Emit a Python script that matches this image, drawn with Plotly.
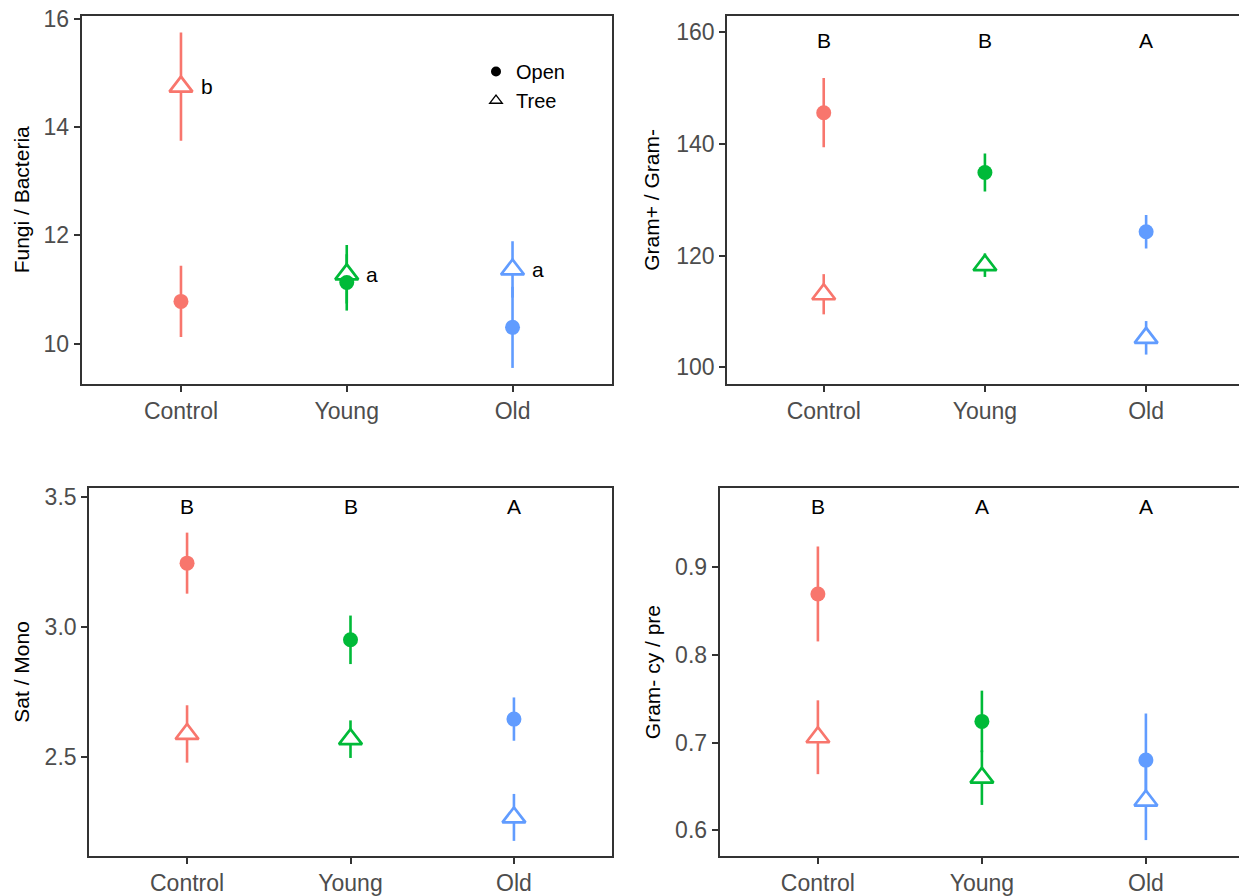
import plotly.graph_objects as go

W, H = 1239, 896

groups = ["Control", "Young", "Old"]
colors = ["#F8766D", "#00BA38", "#619CFF"]

# Panel 1: Fungi / Bacteria
fb_open = [10.78, 11.13, 10.30]
fb_open_se = [0.66, 0.52, 0.75]
fb_tree = [14.75, 11.28, 11.37]
fb_tree_se = [1.00, 0.54, 0.52]
fb_letters = ["b", "a", "a"]

# Panel 2: Gram+ / Gram-
gg_open = [145.6, 134.9, 124.3]
gg_open_se = [6.2, 3.4, 3.0]
gg_tree = [113.1, 118.3, 105.3]
gg_tree_se = [3.6, 2.1, 3.0]
gg_letters = ["B", "B", "A"]

# Panel 3: Sat / Mono
sm_open = [3.245, 2.951, 2.647]
sm_open_se = [0.117, 0.093, 0.083]
sm_tree = [2.59, 2.57, 2.27]
sm_tree_se = [0.11, 0.072, 0.09]
sm_letters = ["B", "B", "A"]

# Panel 4: Gram- cy / pre
gc_open = [0.869, 0.724, 0.680]
gc_open_se = [0.054, 0.035, 0.053]
gc_tree = [0.706, 0.660, 0.634]
gc_tree_se = [0.042, 0.031, 0.045]
gc_letters = ["B", "A", "A"]

panels = [
    dict(title="Fungi / Bacteria", open=fb_open, open_se=fb_open_se, tree=fb_tree, tree_se=fb_tree_se,
         letters=fb_letters, letter_mode="side", yrange=[9.253, 16.06], ytickvals=[10, 12, 14, 16], yfmt="d",
         xdom=[81.5, 612], ydom=[15.7, 384], xrange=[-0.6, 2.6], right_border=True, title_x=21.5),
    dict(title="Gram+ / Gram-", open=gg_open, open_se=gg_open_se, tree=gg_tree, tree_se=gg_tree_se,
         letters=gg_letters, letter_mode="top", letter_y=158.6, yrange=[97.03, 162.97],
         ytickvals=[100, 120, 140, 160], yfmt="d",
         xdom=[727, 1239], ydom=[15.7, 384], xrange=[-0.6, -0.6 + 512 / 161.2], right_border=False, title_x=652),
    dict(title="Sat / Mono", open=sm_open, open_se=sm_open_se, tree=sm_tree, tree_se=sm_tree_se,
         letters=sm_letters, letter_mode="top", letter_y=3.462, yrange=[2.122, 3.532],
         ytickvals=[2.5, 3.0, 3.5], yfmt=".1f",
         xdom=[89, 612], ydom=[488.3, 856], xrange=[-0.6, 2.6], right_border=True, title_x=21.5),
    dict(title="Gram- cy / pre", open=gc_open, open_se=gc_open_se, tree=gc_tree, tree_se=gc_tree_se,
         letters=gc_letters, letter_mode="top", letter_y=0.968, yrange=[0.5709, 0.9892],
         ytickvals=[0.6, 0.7, 0.8, 0.9], yfmt=".1f",
         xdom=[719.5, 1239], ydom=[488.3, 856], xrange=[-0.6, -0.6 + 519.5 / 164], right_border=False, title_x=652),
]

FONT = "Liberation Sans, Arial, sans-serif"
AX = "#333333"
fig = go.Figure()
annotations = []
layout_axes = {}

for k, p in enumerate(panels, start=1):
    xa = "x" if k == 1 else f"x{k}"
    ya = "y" if k == 1 else f"y{k}"
    xs = list(range(len(groups)))
    # error bars first
    for i in xs:
        fig.add_trace(go.Scatter(
            x=[i, i], y=[p["open"][i], p["tree"][i]], mode="markers",
            marker=dict(color="rgba(0,0,0,0)", size=1),
            error_y=dict(type="data", array=[p["open_se"][i], p["tree_se"][i]], visible=True,
                         color=colors[i], thickness=2.6, width=0),
            xaxis=xa, yaxis=ya, showlegend=False, hoverinfo="skip"))
    # tree markers
    fig.add_trace(go.Scatter(
        x=xs, y=p["tree"], mode="markers",
        marker=dict(symbol="triangle-up", size=20, color="white",
                    line=dict(color=colors, width=2.7)),
        xaxis=xa, yaxis=ya, showlegend=False, name="Tree"))
    # open markers
    fig.add_trace(go.Scatter(
        x=xs, y=p["open"], mode="markers",
        marker=dict(symbol="circle", size=15, color=colors, line=dict(width=0)),
        xaxis=xa, yaxis=ya, showlegend=False, name="Open"))

    x0, x1 = p["xdom"]
    yt, yb = p["ydom"]
    axis_key = "xaxis" if k == 1 else f"xaxis{k}"
    yaxis_key = "yaxis" if k == 1 else f"yaxis{k}"
    layout_axes[axis_key] = dict(
        domain=[x0 / W, x1 / W], range=p["xrange"], anchor=ya, automargin=False,
        tickmode="array", tickvals=xs, ticktext=groups,
        ticks="outside", ticklen=6, tickwidth=1.6, tickcolor=AX,
        showline=True, linecolor=AX, linewidth=1.6, mirror=True,
        showgrid=False, zeroline=False,
        tickfont=dict(family=FONT, size=23, color="#4D4D4D"))
    layout_axes[yaxis_key] = dict(
        domain=[1 - yb / H, 1 - yt / H], range=p["yrange"], anchor=xa, automargin=False,
        tickmode="array", tickvals=p["ytickvals"], tickformat=p["yfmt"],
        ticks="outside", ticklen=6, tickwidth=1.6, tickcolor=AX,
        showline=True, linecolor=AX, linewidth=1.6, mirror=p["right_border"],
        showgrid=False, zeroline=False,
        tickfont=dict(family=FONT, size=23, color="#4D4D4D"))

    # y-axis title
    annotations.append(dict(
        text=p["title"], xref="paper", yref="paper", x=p["title_x"] / W,
        y=1 - (yt + yb) / 2 / H, xanchor="center", yanchor="middle", textangle=-90,
        showarrow=False, font=dict(family=FONT, size=21, color="black")))

    # letters
    for i in xs:
        if p["letter_mode"] == "side":
            annotations.append(dict(
                text=p["letters"][i], xref=xa, yref=ya, x=i + 0.155, y=p["tree"][i],
                xanchor="center", yanchor="middle", showarrow=False,
                font=dict(family=FONT, size=21, color="black")))
        else:
            annotations.append(dict(
                text=p["letters"][i], xref=xa, yref=ya, x=i, y=p["letter_y"],
                xanchor="center", yanchor="middle", showarrow=False,
                font=dict(family=FONT, size=21, color="black")))

# legend entries
fig.add_trace(go.Scatter(x=[None], y=[None], mode="markers", name="Open",
                         marker=dict(symbol="circle", size=10, color="black"),
                         xaxis="x", yaxis="y", showlegend=True))
fig.add_trace(go.Scatter(x=[None], y=[None], mode="markers", name="Tree",
                         marker=dict(symbol="triangle-up-open", size=11, color="black",
                                     line=dict(width=1.3, color="black")),
                         xaxis="x", yaxis="y", showlegend=True))

fig.update_layout(
    width=W, height=H, margin=dict(l=0, r=0, t=0, b=0, autoexpand=False),
    paper_bgcolor="white", plot_bgcolor="white",
    font=dict(family=FONT),
    showlegend=True,
    legend=dict(x=476 / W, y=1 - 52 / H, xanchor="left", yanchor="top",
                bgcolor="rgba(0,0,0,0)", font=dict(family=FONT, size=20, color="black"),
                itemsizing="trace", tracegroupgap=0),
    annotations=annotations,
    **layout_axes,
)

fig.write_html("out.html")
